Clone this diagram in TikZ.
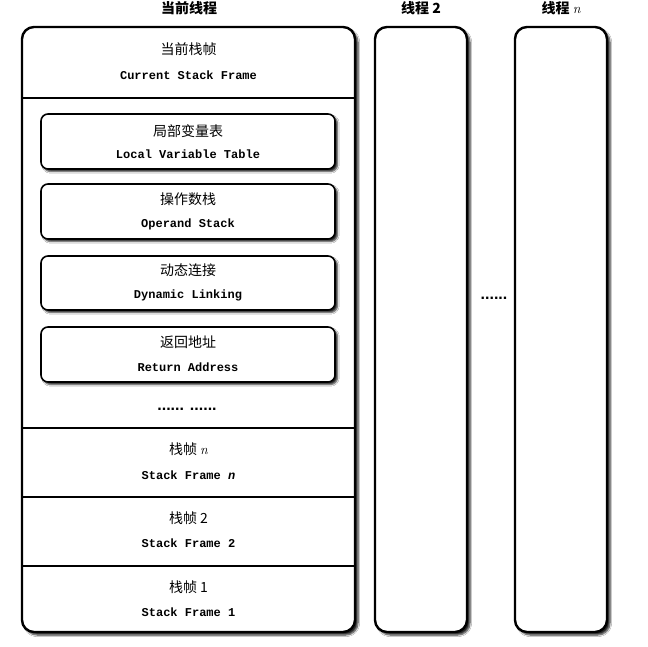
\documentclass[tikz,border=0pt]{standalone}
\usepackage{fontspec}
\setmonofont{Liberation Mono}
\newfontfamily\cjk{Noto Sans CJK SC}
\newfontfamily\dotfont{Liberation Sans}
\usetikzlibrary{shadows.blur}
\begin{document}
\begin{tikzpicture}[x=1pt,y=-1pt,
  frame/.style={draw=black,line width=2.4pt,fill=white,rounded corners=12pt,
    blur shadow={shadow xshift=3pt,shadow yshift=-3pt,shadow blur steps=6,shadow opacity=85}},
  inbox/.style={draw=black,line width=1.6pt,fill=white,rounded corners=7pt,
    blur shadow={shadow xshift=2.5pt,shadow yshift=-2.5pt,shadow blur steps=4,shadow opacity=85}},
  divider/.style={line width=1.3pt},
  zh/.style={font=\cjk\fontsize{14}{16}\selectfont,inner sep=0pt},
  title/.style={font=\cjk\bfseries\fontsize{14}{16}\selectfont,inner sep=0pt},
  en/.style={font=\ttfamily\bfseries\fontsize{12}{14}\selectfont,inner sep=0pt},
  dots/.style={font=\dotfont\bfseries\fontsize{16}{16}\selectfont,inner sep=0pt}]
\useasboundingbox (0,0) rectangle (648,646);
\fill[white] (0,0) rectangle (648,646);
% outer frames
\path[frame] (22,27) rectangle (355,632);
\path[frame] (375,27) rectangle (467,632);
\path[frame] (515,27) rectangle (607,632);
% titles
\node[title] (t1) at (189,8) {当前线程};
\node[title] (t2) at (421,8) {线程 2};
\node[title] (tn) at (561,8) {线程 {\normalfont\itshape n}};
% current frame
\node[zh] (cf1) at (188.5,49) {当前栈帧};
\node[en] (cf2) at (188.5,75) {Current Stack Frame};
\draw[divider] (22,98) -- (355,98);
% inner boxes
\path[inbox] (41,114) rectangle (335,169);
\node[zh] (lv1) at (188,131) {局部变量表};
\node[en] (lv2) at (188,154) {Local Variable Table};
\path[inbox] (41,184) rectangle (335,239);
\node[zh] (os1) at (188,199) {操作数栈};
\node[en] (os2) at (188,224) {Operand Stack};
\path[inbox] (41,256) rectangle (335,310);
\node[zh] (dl1) at (188,270) {动态连接};
\node[en] (dl2) at (188,295) {Dynamic Linking};
\path[inbox] (41,327) rectangle (335,382);
\node[zh] (ra1) at (188,342) {返回地址};
\node[en] (ra2) at (188,367) {Return Address};
\node[dots,anchor=base] (dd) at (187,410) {...... ......};
% stack frames
\draw[divider] (22,428) -- (355,428);
\node[zh] (sn1) at (188.5,449) {栈帧 {\normalfont\itshape n}};
\node[en] (sn2) at (188.5,475) {Stack Frame {\itshape n}};
\draw[divider] (22,497) -- (355,497);
\node[zh] (s21) at (188.5,518) {栈帧 2};
\node[en] (s22) at (188.5,543) {Stack Frame 2};
\draw[divider] (22,566) -- (355,566);
\node[zh] (s11) at (188.5,587) {栈帧 1};
\node[en] (s12) at (188.5,612) {Stack Frame 1};
\node[dots,anchor=base] (md) at (494,299) {......};
\end{tikzpicture}
\end{document}
